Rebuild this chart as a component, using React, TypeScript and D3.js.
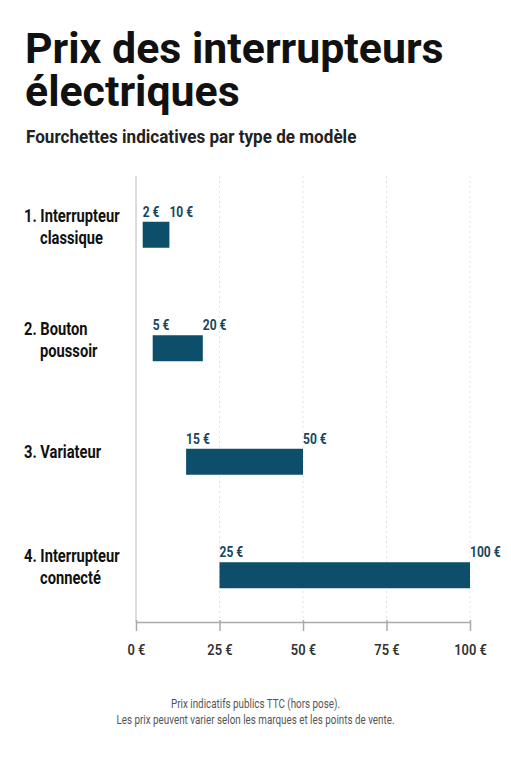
import React, { useRef, useEffect } from 'react';
import * as d3 from 'd3';

// Data
const categories = ['1. Interrupteur|classique', '2. Bouton|poussoir', '3. Variateur', '4. Interrupteur|connecté'];
const minPrices = [2, 5, 15, 25];
const maxPrices = [10, 20, 50, 100];
const xTicks = [0, 25, 50, 75, 100];

const title = ['Prix des interrupteurs', 'électriques'];
const subtitle = 'Fourchettes indicatives par type de modèle';
const notes = ['Prix indicatifs publics TTC (hors pose).', 'Les prix peuvent varier selon les marques et les points de vente.'];

const W = 511;
const H = 768;
const FONT = 'Roboto, "Noto Sans", sans-serif';
const BAR = '#0d4f6b';
const COND = 0.84; // narrow look of the original font

export default function App() {
  const svgRef = useRef(null);

  useEffect(() => {
    const svg = d3.select(svgRef.current);
    svg.selectAll('*').remove();

    const rows = categories.map((c, i) => ({ label: c.split('|'), lo: minPrices[i], hi: maxPrices[i] }));

    // Scales
    const x = d3.scaleLinear().domain([0, 100]).range([136, 470]);
    const y = d3
      .scaleBand()
      .domain(rows.map((d) => d.label.join(' ')))
      .range([178, 632]);
    const barH = 26;
    const plotTop = 176;
    const plotBottom = 622;

    // condensed text helper
    const text = (g, tx, ty, str, size, weight, fill, anchor = 'start', sx = COND) =>
      g
        .append('text')
        .attr('transform', `translate(${tx},${ty}) scale(${sx},1)`)
        .attr('font-family', FONT)
        .attr('font-size', size)
        .attr('font-weight', weight)
        .attr('fill', fill)
        .attr('text-anchor', anchor)
        .text(str);

    // Title (one text block, two lines)
    const titleText = svg
      .append('text')
      .attr('transform', 'translate(25,63) scale(1.02,1)')
      .attr('font-family', FONT)
      .attr('font-size', 42)
      .attr('font-weight', 700)
      .attr('fill', '#111');
    title.forEach((t, i) =>
      titleText
        .append('tspan')
        .attr('x', 0)
        .attr('y', i * 43)
        .text(t),
    );
    text(svg, 26, 143, subtitle, 18, 700, '#222', 'start', 0.95);

    // Grid lines
    svg
      .append('g')
      .selectAll('line')
      .data(xTicks.slice(1))
      .join('line')
      .attr('x1', (d) => x(d))
      .attr('x2', (d) => x(d))
      .attr('y1', plotTop)
      .attr('y2', plotBottom)
      .attr('stroke', '#e2e2e2')
      .attr('stroke-width', 1)
      .attr('stroke-dasharray', '2,3');

    // vertical baseline
    svg
      .append('line')
      .attr('x1', x(0))
      .attr('x2', x(0))
      .attr('y1', plotTop)
      .attr('y2', plotBottom)
      .attr('stroke', '#cfcfcf')
      .attr('stroke-width', 1.5);

    // x axis
    const xAxis = d3
      .axisBottom(x)
      .tickValues(xTicks)
      .tickSize(9)
      .tickSizeOuter(0)
      .tickFormat((d) => `${d} €`);
    const axisG = svg.append('g').attr('transform', `translate(0,${plotBottom})`).call(xAxis);
    axisG.select('.domain').attr('stroke', '#aaa').attr('stroke-width', 1.5);
    axisG.selectAll('.tick line').attr('stroke', '#aaa').attr('stroke-width', 1.5).attr('y1', -2);
    axisG
      .selectAll('.tick text')
      .attr('y', 0)
      .attr('dy', 0)
      .attr('transform', `translate(0,33) scale(0.86,1)`)
      .attr('font-family', FONT)
      .attr('font-size', 15)
      .attr('font-weight', 600)
      .attr('fill', '#333');

    // Bars
    const rowG = svg
      .append('g')
      .selectAll('g')
      .data(rows)
      .join('g');

    rowG
      .append('rect')
      .attr('x', (d) => x(d.lo))
      .attr('width', (d) => x(d.hi) - x(d.lo))
      .attr('y', (d) => y(d.label.join(' ')) + y.bandwidth() / 2 - barH / 2)
      .attr('height', barH)
      .attr('fill', BAR);

    rowG.each(function (d) {
      const g = d3.select(this);
      const cy = y(d.label.join(' ')) + y.bandwidth() / 2;
      const top = cy - barH / 2 - 5;
      text(g, x(d.lo), top, `${d.lo} €`, 14, 700, '#16465e', 'start', 0.86);
      text(g, x(d.hi), top, `${d.hi} €`, 14, 700, '#16465e', 'start', 0.86);

      // category label with hanging indent
      const lines = d.label;
      const base = lines.length > 1 ? cy - 13 : cy - 4;
      lines.forEach((l, i) => text(g, i === 0 ? 24 : 40, base + i * 22, l, 17.5, 700, '#111'));
    });

    // Notes
    notes.forEach((n, i) => text(svg, W / 2, 708 + i * 16, n, 12, 400, '#555', 'middle', 0.82));
  }, []);

  return (
    <svg
      ref={svgRef}
      width={W}
      height={H}
      style={{ position: 'absolute', left: 0, top: 0, background: '#fff', display: 'block' }}
    />
  );
}
